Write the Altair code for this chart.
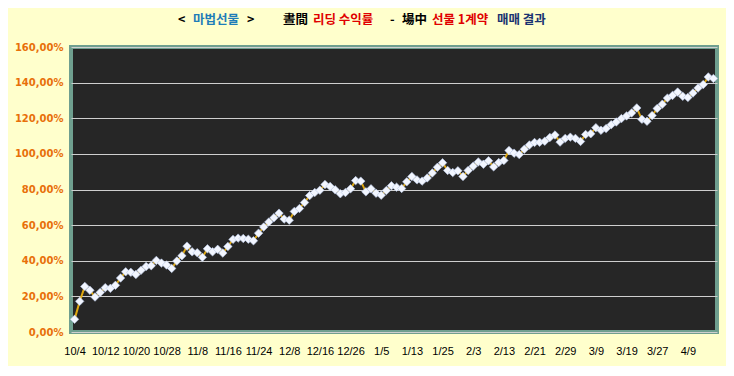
import altair as alt
import pandas as pd

# cumulative return (%) per trading day
returns = [7.1, 17.2, 25.6, 23.4, 19.6, 22.2, 24.9, 24.5, 26.2, 30.3,
           33.8, 33.5, 32.3, 34.6, 36.8, 37.2, 40.2, 38.7, 37.6, 35.7,
           39.8, 42.8, 48.2, 45.0, 44.5, 41.9, 46.7, 45.0, 46.4, 44.3,
           48.0, 52.0, 52.7, 52.5, 52.1, 51.2, 55.5, 58.9, 61.7, 64.1,
           66.7, 63.4, 62.8, 67.7, 69.3, 72.7, 76.6, 78.3, 79.6, 82.8,
           81.7, 79.8, 77.6, 78.3, 80.4, 85.0, 84.7, 78.7, 80.4, 77.9,
           76.8, 79.4, 82.1, 81.3, 80.6, 84.3, 87.3, 85.4, 84.7, 86.5,
           89.3, 92.5, 95.0, 90.7, 89.5, 90.5, 87.3, 90.7, 93.1, 95.5,
           94.2, 96.1, 92.7, 95.1, 96.3, 101.9, 100.4, 99.6, 102.6, 105.0,
           106.4, 106.5, 107.1, 109.2, 110.6, 106.6, 108.7, 109.4, 108.7, 107.0,
           110.9, 111.3, 114.7, 113.2, 114.2, 116.4, 117.9, 119.8, 121.3, 123.0,
           125.8, 119.4, 118.3, 121.5, 125.5, 127.9, 131.3, 132.8, 134.7, 132.3,
           131.7, 134.2, 137.0, 138.9, 143.2, 142.3]

tick_labels = ["10/4", "10/12", "10/20", "10/28", "11/8", "11/16", "11/24",
               "12/8", "12/16", "12/26", "1/5", "1/13", "1/25", "2/3", "2/13",
               "2/21", "2/29", "3/9", "3/19", "3/27", "4/9"]
label_step = 6

y_ticks = [0, 20, 40, 60, 80, 100, 120, 140, 160]

title_parts = ["<", "마법선물", ">", "晝間", "리딩 수익률", "-", "場中", "선물 1계약", "매매 결과"]
title_colors = ["#000000", "#1E7DB8", "#000000", "#000000", "#E00000", "#000000",
                "#000000", "#E00000", "#1A3270"]
title_x = [107, 122, 176, 212, 242, 319, 331, 361, 426]

df = pd.DataFrame({"idx": list(range(len(returns))), "ret": returns})

tick_vals = [i * label_step for i in range(len(tick_labels))]
label_arr = "[" + ",".join("'" + t + "'" for t in tick_labels) + "]"

x_enc = alt.X(
    "idx:Q",
    scale=alt.Scale(domain=[-0.7, len(returns) - 0.3], nice=False, zero=False),
    axis=alt.Axis(
        values=tick_vals,
        labelExpr=label_arr + "[round(datum.value/" + str(label_step) + ")]",
        title=None, grid=False, ticks=False, domain=False,
        labelFont="Liberation Sans", labelFontSize=11, labelColor="#000000",
        labelPadding=13, labelOverlap=False, labelFlush=False,
    ),
)
y_enc = alt.Y(
    "ret:Q",
    scale=alt.Scale(domain=[0, 160], nice=False),
    axis=alt.Axis(
        values=y_ticks,
        labelExpr="replace(format(datum.value/100, '.2%'), '.', ',')",
        title=None, ticks=False, domain=False,
        grid=True, gridColor="#cfcfcf", gridWidth=1,
        labelFont="DejaVu Sans", labelFontWeight="bold", labelFontSize=10,
        labelColor="#E8700A", labelPadding=8,
    ),
)

base = alt.Chart(df)
line = base.mark_line(color="#E0A810", strokeWidth=2).encode(x=x_enc, y=y_enc)
pts = base.mark_point(shape="diamond", filled=True, size=72, fill="#F2F6FF",
                      stroke="#b8c8e8", strokeWidth=0.6, opacity=1).encode(x=x_enc, y=y_enc)

layers = [line, pts]
for txt, col, xp in zip(title_parts, title_colors, title_x):
    layers.append(
        alt.Chart(pd.DataFrame({"t": [txt]})).mark_text(
            align="left", baseline="middle", font="Noto Sans CJK KR",
            fontWeight="bold", fontSize=12.5, color=col,
        ).encode(text="t:N", x=alt.value(xp), y=alt.value(-27))
    )

chart = alt.layer(*layers).properties(
    width=646, height=285,
    autosize=alt.AutoSizeParams(type="none"),
    padding={"left": 63, "top": 39, "right": 9, "bottom": 34},
    background="#FFFFCC",
).configure_view(
    fill="#262626", stroke="#6f9f8f", strokeWidth=4,
)

chart.save("out.html", embed_options={"renderer": "svg", "actions": False})
